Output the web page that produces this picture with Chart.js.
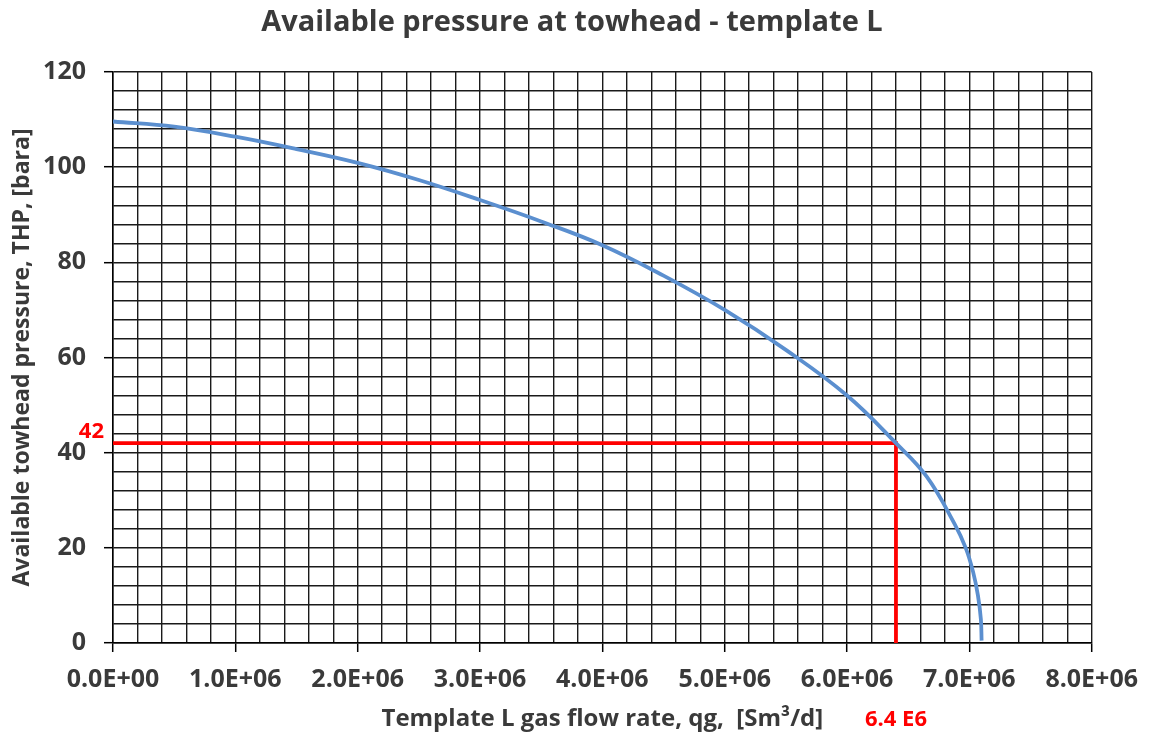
<!DOCTYPE html>
<html>
<head>
<meta charset="utf-8">
<title>Available pressure at towhead</title>
<script src="https://cdn.jsdelivr.net/npm/chart.js@4.4.1/dist/chart.umd.min.js"></script>
<style>
  html, body { margin: 0; padding: 0; background: #fff; }
  #wrap { width: 1151px; height: 735px; position: relative; }
</style>
</head>
<body>
<div id="wrap"><canvas id="chart"></canvas></div>
<script>
// Gas flow rate qg [Sm3/d] and available towhead pressure THP [bara]
const qg = [0, 0.5e6, 1.0e6, 1.5e6, 2.0e6, 2.5e6, 3.0e6, 3.5e6, 4.0e6, 4.5e6,
            5.0e6, 5.5e6, 6.0e6, 6.4e6, 6.65e6, 6.88e6, 6.97e6, 7.03e6, 7.07e6,
            7.094e6, 7.1e6];
const thp = [109.6, 108.5, 106.4, 103.8, 100.9, 97.3, 93.1, 88.6, 83.6, 77.2,
             70.0, 61.6, 52.0, 42.0, 35.0, 25.0, 20.0, 15.0, 10.0,
             5.0, 0.5];

// Operating point
const opRate = 6.4e6;
const opPressure = 42;
const opRateLabel = '6.4 E6';
const opPressureLabel = '42';

const titleText = 'Available pressure at towhead - template L';
const xTitle = 'Template L gas flow rate, qg,  [Sm\u00b3/d]';
const yTitle = 'Available towhead pressure, THP, [bara]';

const FONT = '"Open Sans", "Noto Sans", sans-serif';
const TEXT = '#3a3a3a';

const isMultiple = (v, step) => Math.abs(v / step - Math.round(v / step)) < 1e-6;

function sciLabel(v) {
    const [m, e] = v.toExponential(1).split('e');
    const n = Math.abs(parseInt(e, 10));
    return m + 'E' + (e.startsWith('-') ? '-' : '+') + String(n).padStart(2, '0');
}

// Title and the red operating point labels
const annotations = {
    id: 'annotations',
    afterDraw(chart) {
        const { ctx, scales: { x, y } } = chart;
        ctx.save();
        ctx.fillStyle = TEXT;
        ctx.font = 'bold 29px ' + FONT;
        ctx.textAlign = 'center';
        ctx.textBaseline = 'middle';
        ctx.fillText(titleText, 572, 23);

        ctx.fillStyle = '#ff0000';
        ctx.font = 'bold 22px ' + FONT;
        ctx.fillText(opRateLabel, x.getPixelForValue(opRate), 720);
        ctx.textAlign = 'right';
        ctx.fillText(opPressureLabel, 104, y.getPixelForValue(opPressure) - 11);
        ctx.restore();
    }
};

new Chart(document.getElementById('chart'), {
    type: 'scatter',
    data: {
        datasets: [
            {
                data: qg.map((v, i) => ({ x: v, y: thp[i] })),
                showLine: true,
                borderColor: '#5b8fcf',
                borderWidth: 3.8,
                pointRadius: 0,
                tension: 0.4
            },
            {
                data: [{ x: 0, y: opPressure }, { x: opRate, y: opPressure }, { x: opRate, y: 0 }],
                showLine: true,
                borderColor: '#ff0000',
                borderWidth: 3.8,
                pointRadius: 0,
                tension: 0,
                clip: false
            }
        ]
    },
    options: {
        responsive: true,
        maintainAspectRatio: false,
        animation: false,
        layout: { padding: { top: 72, right: 58, left: 0, bottom: 0 } },
        plugins: {
            legend: { display: false },
            title: { display: false },
            tooltip: { enabled: false }
        },
        scales: {
            x: {
                type: 'linear',
                min: 0,
                max: 8e6,
                afterFit: (s) => { s.height = 92; },
                border: { display: true, color: '#000', width: 1.5 },
                grid: {
                    color: '#1a1a1a',
                    lineWidth: 1.4,
                    tickLength: 9,
                    tickWidth: 1.5,
                    tickColor: (c) => (c.tick && isMultiple(c.tick.value, 1e6)) ? '#000' : 'rgba(0,0,0,0)'
                },
                ticks: {
                    stepSize: 2e5,
                    autoSkip: false,
                    maxRotation: 0,
                    padding: 13,
                    color: TEXT,
                    font: { family: FONT, size: 25, weight: 'bold' },
                    callback: (v) => isMultiple(v, 1e6) ? sciLabel(v) : ''
                },
                title: {
                    display: true,
                    text: xTitle,
                    color: TEXT,
                    padding: { top: 0, bottom: 1 },
                    font: { family: FONT, size: 24, weight: 'bold' }
                }
            },
            y: {
                type: 'linear',
                min: 0,
                max: 120,
                afterFit: (s) => { s.width = 113; },
                border: { display: true, color: '#000', width: 1.5 },
                grid: {
                    color: '#1a1a1a',
                    lineWidth: 1.4,
                    tickLength: 9,
                    tickWidth: 1.5,
                    tickColor: (c) => (c.tick && isMultiple(c.tick.value, 20)) ? '#000' : 'rgba(0,0,0,0)'
                },
                ticks: {
                    stepSize: 4,
                    autoSkip: false,
                    padding: 18,
                    color: TEXT,
                    font: { family: FONT, size: 25, weight: 'bold' },
                    callback: (v) => isMultiple(v, 20) ? String(v) : ''
                },
                title: {
                    display: true,
                    text: yTitle,
                    color: TEXT,
                    padding: { top: 9, bottom: 0 },
                    font: { family: FONT, size: 23, weight: 'bold' }
                }
            }
        }
    },
    plugins: [annotations]
});
</script>
</body>
</html>
